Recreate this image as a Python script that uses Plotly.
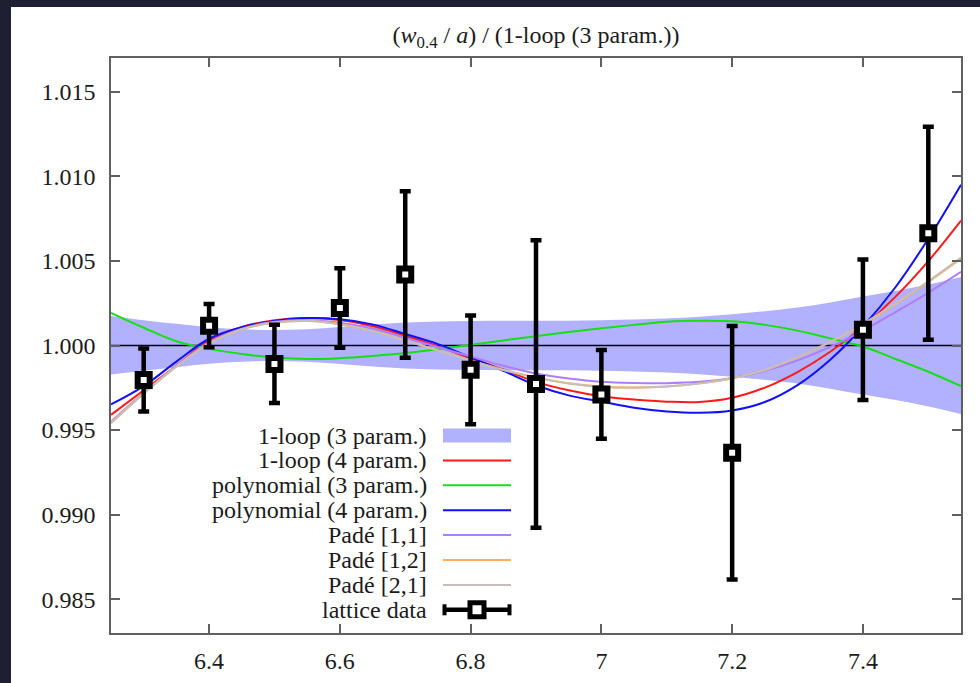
import plotly.graph_objects as go

# ---------------- data ----------------
beta_grid = [6.25, 6.30, 6.35, 6.40, 6.45, 6.50, 6.55, 6.60, 6.65, 6.70, 6.75, 6.80, 6.85,
             6.90, 6.95, 7.00, 7.05, 7.10, 7.15, 7.20, 7.25, 7.30, 7.35, 7.40, 7.45, 7.50, 7.55]

band_upper = [1.00175, 1.00150, 1.00128, 1.00108, 1.00096, 1.00092, 1.00096, 1.00110, 1.00124,
              1.00136, 1.00142, 1.00145, 1.00146, 1.00146, 1.00147, 1.00150, 1.00154, 1.00160,
              1.00170, 1.00185, 1.00203, 1.00225, 1.00255, 1.00290, 1.00322, 1.00360, 1.00405]
band_lower = [0.99828, 0.99850, 0.99872, 0.99892, 0.99904, 0.99908, 0.99904, 0.99890, 0.99876,
              0.99864, 0.99858, 0.99855, 0.99854, 0.99854, 0.99853, 0.99850, 0.99846, 0.99840,
              0.99830, 0.99815, 0.99797, 0.99775, 0.99745, 0.99710, 0.99678, 0.99640, 0.99595]

oneloop4 = [0.99590, 0.99735, 0.99880, 1.00030, 1.00110, 1.00150, 1.00163, 1.00150, 1.00115,
            1.00058, 0.99995, 0.99925, 0.99858, 0.99785, 0.99735, 0.99700, 0.99680, 0.99668,
            0.99666, 0.99691, 0.99751, 0.99843, 0.99963, 1.00111, 1.00289, 1.00499, 1.00739]
poly3 = [1.00193, 1.00105, 1.00025, 0.99980, 0.99950, 0.99930, 0.99920, 0.99925, 0.99938,
         0.99955, 0.99978, 1.00004, 1.00030, 1.00055, 1.00080, 1.00102, 1.00122, 1.00140,
         1.00146, 1.00143, 1.00122, 1.00088, 1.00042, 0.99994, 0.99920, 0.99845, 0.99760]
poly4 = [0.99652, 0.99760, 0.99905, 1.00040, 1.00108, 1.00145, 1.00162, 1.00155, 1.00125,
         1.00068, 1.00008, 0.99930, 0.99850, 0.99765, 0.99705, 0.99668, 0.99632, 0.99610,
         0.99602, 0.99616, 0.99666, 0.99766, 0.99916, 1.00111, 1.00346, 1.00631, 1.00951]
pade11 = [0.99550, 0.99720, 0.99880, 1.00020, 1.00100, 1.00140, 1.00150, 1.00135, 1.00100,
          1.00045, 0.99990, 0.99935, 0.99880, 0.99835, 0.99805, 0.99785, 0.99778, 0.99777,
          0.99785, 0.99808, 0.99850, 0.99912, 0.99992, 1.00088, 1.00198, 1.00312, 1.00435]
pade12 = [0.99545, 0.99718, 0.99877, 1.00012, 1.00096, 1.00136, 1.00146, 1.00126, 1.00086,
          1.00031, 0.99971, 0.99911, 0.99856, 0.99811, 0.99777, 0.99757, 0.99752, 0.99758,
          0.99776, 0.99806, 0.99855, 0.99930, 1.00020, 1.00125, 1.00246, 1.00376, 1.00515]
pade21 = [0.99540, 0.99715, 0.99875, 1.00010, 1.00095, 1.00135, 1.00145, 1.00125, 1.00085,
          1.00030, 0.99970, 0.99910, 0.99855, 0.99810, 0.99775, 0.99755, 0.99750, 0.99757,
          0.99775, 0.99805, 0.99855, 0.99932, 1.00022, 1.00128, 1.00250, 1.00380, 1.00520]

lat_beta = [6.3, 6.4, 6.5, 6.6, 6.7, 6.8, 6.9, 7.0, 7.2, 7.4, 7.5]
lat_val = [0.99796, 1.00117, 0.99891, 1.00222, 1.00420, 0.99856, 0.99772, 0.99711, 0.99366,
           1.00093, 1.00664]
lat_err = [0.00186, 0.00128, 0.00231, 0.00235, 0.00492, 0.00322, 0.00850, 0.00262, 0.00750,
           0.00415, 0.00630]

x_ticks = [6.4, 6.6, 6.8, 7.0, 7.2, 7.4]
x_tick_labels = ["6.4", "6.6", "6.8", "7", "7.2", "7.4"]
y_ticks = [0.985, 0.990, 0.995, 1.000, 1.005, 1.010, 1.015]
y_tick_labels = ["0.985", "0.990", "0.995", "1.000", "1.005", "1.010", "1.015"]

legend_labels = ["1-loop (3 param.)", "1-loop (4 param.)", "polynomial (3 param.)",
                 "polynomial (4 param.)", "Padé [1,1]", "Padé [1,2]", "Padé [2,1]", "lattice data"]

# ---------------- styles ----------------
BAND = "#b1b1ff"
curve_styles = [
    ("1-loop (4 param.)", oneloop4, "#ff1a1a"),
    ("polynomial (3 param.)", poly3, "#14e014"),
    ("polynomial (4 param.)", poly4, "#1010ff"),
    ("Padé [1,1]", pade11, "#b07cff"),
    ("Padé [1,2]", pade12, "#ffad5c"),
    ("Padé [2,1]", pade21, "#c4bfb8"),
]
SERIF = "'Liberation Serif', 'Times New Roman', Tinos, Times, serif"
TXT = "#1b1b1b"
FS = 24

# layout geometry (pixels)
W, H = 980, 683
ML, MR, MT, MB = 111, 19, 58, 50
PW, PH = W - ML - MR, H - MT - MB


def px_x(p):
    return (p - ML) / PW


def px_y(p):
    return (H - MB - p) / PH


fig = go.Figure()

# band (1-loop 3 param.)
fig.add_trace(go.Scatter(x=beta_grid, y=band_lower, mode="lines", line=dict(width=0, shape="spline"),
                         showlegend=False, hoverinfo="skip"))
fig.add_trace(go.Scatter(x=beta_grid, y=band_upper, mode="lines", line=dict(width=0, shape="spline"),
                         fill="tonexty", fillcolor=BAND, name=legend_labels[0], showlegend=False))

# reference line at 1
fig.add_trace(go.Scatter(x=[6.25, 7.55], y=[1.0, 1.0], mode="lines",
                         line=dict(color="black", width=1.3), showlegend=False, hoverinfo="skip"))

for name, vals, col in curve_styles:
    fig.add_trace(go.Scatter(x=beta_grid, y=vals, mode="lines", name=name,
                             line=dict(color=col, width=2, shape="spline", smoothing=1.0),
                             showlegend=False))

fig.add_trace(go.Scatter(
    x=lat_beta, y=lat_val, mode="markers", name="lattice data", showlegend=False,
    marker=dict(symbol="square", size=12, color="white", line=dict(color="black", width=6)),
    error_y=dict(type="data", array=lat_err, visible=True, color="black", thickness=4.5, width=5.5),
))

# ---------------- manual gnuplot-style key ----------------
shapes = []
annotations = []
row0, dy = 435.5, 24.9
tx = 429
sx0, sx1 = 443, 511
line_cols = [c for _, _, c in curve_styles]
for i, lab in enumerate(legend_labels):
    yc = row0 + i * dy
    annotations.append(dict(xref="paper", yref="paper", x=px_x(tx), y=px_y(yc), xanchor="right",
                            yanchor="middle", text=lab, showarrow=False,
                            font=dict(family=SERIF, size=FS, color=TXT)))
    if i == 0:
        shapes.append(dict(type="rect", xref="paper", yref="paper", x0=px_x(sx0), x1=px_x(sx1),
                           y0=px_y(yc + 7), y1=px_y(yc - 7), fillcolor=BAND, line=dict(width=0)))
    elif i < 7:
        shapes.append(dict(type="line", xref="paper", yref="paper", x0=px_x(sx0), x1=px_x(sx1),
                           y0=px_y(yc), y1=px_y(yc), line=dict(color=line_cols[i - 1], width=2)))
    else:
        shapes.append(dict(type="line", xref="paper", yref="paper", x0=px_x(sx0), x1=px_x(sx1),
                           y0=px_y(yc), y1=px_y(yc), line=dict(color="black", width=4.5)))
        for xe in (sx0 + 1.5, sx1 - 1.5):
            shapes.append(dict(type="line", xref="paper", yref="paper", x0=px_x(xe), x1=px_x(xe),
                               y0=px_y(yc - 5.5), y1=px_y(yc + 5.5), line=dict(color="black", width=4)))
        cx = (sx0 + sx1) / 2
        shapes.append(dict(type="rect", xref="paper", yref="paper", x0=px_x(cx - 7), x1=px_x(cx + 7),
                           y0=px_y(yc + 7), y1=px_y(yc - 7), fillcolor="white",
                           line=dict(color="black", width=5)))

# white page on a dark frame
shapes.insert(0, dict(type="rect", xref="paper", yref="paper", layer="below",
                      x0=px_x(11), x1=px_x(W + 5), y0=px_y(H + 5), y1=px_y(7),
                      fillcolor="white", line=dict(width=0)))

fig.update_layout(
    width=W, height=H,
    margin=dict(l=ML, r=MR, t=MT, b=MB, pad=0, autoexpand=False),
    paper_bgcolor="#1e1f33",
    plot_bgcolor="white",
    showlegend=False,
    font=dict(family=SERIF, color=TXT),
    title=dict(text="(<i>w</i><sub>0.4</sub> / <i>a</i>) / (1-loop (3 param.))",
               xref="container", yref="container", x=(ML + PW / 2) / W, xanchor="center",
               y=1 - 35 / H, yanchor="middle",
               font=dict(family=SERIF, size=FS, color=TXT)),
    shapes=shapes,
    annotations=annotations,
)

axis_common = dict(showgrid=False, zeroline=False, showline=True, linecolor="#606060", linewidth=1.5,
                   mirror="allticks", ticks="inside", ticklen=9, tickwidth=1.5, tickcolor="#606060",
                   automargin=False,
                   tickfont=dict(family=SERIF, size=FS, color=TXT))
fig.update_xaxes(range=[6.25, 7.55], tickvals=x_ticks, ticktext=x_tick_labels,
                 ticklabelstandoff=5, **axis_common)
fig.update_yaxes(range=[0.983, 1.017], tickvals=y_ticks, ticktext=y_tick_labels,
                 ticklabelstandoff=9, **axis_common)

fig.write_html("out.html")
